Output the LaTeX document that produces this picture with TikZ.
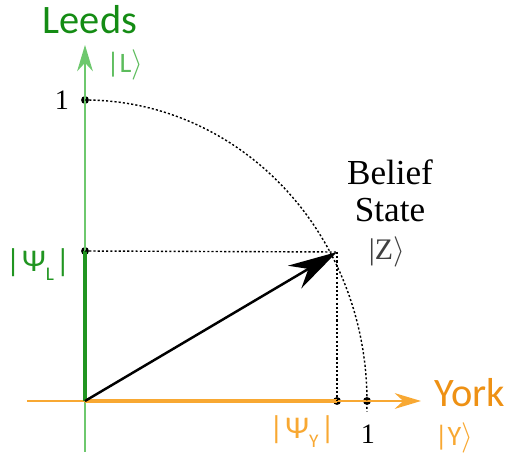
\documentclass[tikz,border=0pt]{standalone}
\usepackage{fontspec}
\setmainfont{Liberation Serif}
\newfontfamily\calfont{Carlito}
\usetikzlibrary{arrows.meta}
\definecolor{leedsGreen}{RGB}{20,140,20}
\definecolor{axisGreen}{RGB}{110,200,110}
\definecolor{yorkOrange}{RGB}{238,145,20}
\definecolor{axisOrange}{RGB}{248,168,50}

\begin{document}
\begin{tikzpicture}[x=0.02cm, y=0.02cm,
    city/.style={font=\calfont\fontsize{23}{26}\selectfont, inner sep=0pt},
    ket/.style={font=\calfont\fontsize{16}{19}\selectfont, inner sep=0pt},
    amp/.style={font=\calfont\fontsize{18}{21}\selectfont, inner sep=0pt},
    serif/.style={font=\fontsize{16}{18}\selectfont, inner sep=0pt},
    belief/.style={font=\fontsize{20}{23}\selectfont, align=center, inner sep=0pt},
    guide/.style={line width=0.8pt, dash pattern=on 1.2pt off 1.2pt},
    knot/.style={circle, fill=black, inner sep=0pt, minimum size=4.5pt},
    axis/.style={line width=0.8pt, -{Stealth[length=15pt,width=9pt]}},
    >=Stealth
  ]
  \useasboundingbox (0,0) rectangle (512,457);

  % Points
  \coordinate (O) at (85,56);
  \coordinate (Ytop) at (85,412);
  \coordinate (Ybot) at (85,5);
  \coordinate (Xleft) at (27,56);
  \coordinate (Xright) at (421,56);
  \coordinate (Z) at (337,205);
  \node[knot] (L1) at (85,357) {};
  \node[knot] (psiL) at (85,206) {};
  \node[knot] (psiY) at (337,56) {};
  \node[knot] (Y1) at (367,56) {};

  % Axes
  \draw[axis, axisGreen] (Ybot) -- (Ytop);
  \draw[axis, axisOrange] (Xleft) -- (Xright);
  \draw[line width=1.8pt, leedsGreen!85!axisGreen] (O) -- (psiL.center);
  \draw[line width=1.8pt, axisOrange] (O) -- (psiY.center);

  % Projections and unit circle
  \draw[guide] (psiL.center) -- (Z);
  \draw[guide] (Z) -- (psiY.center);
  \draw[guide] (L1.center) arc[start angle=90, end angle=-2,
    x radius=282, y radius=301];

  % Belief vector
  \draw[-{Stealth[length=28pt,width=15pt]}, line width=1.4pt] (O) -- (Z);

  % Labels
  \node[city, text=leedsGreen] (leeds) at (90,437) {Leeds};
  \node[ket, text=axisGreen!80!leedsGreen] (ketL) at (125,392) {|L$\rangle$};
  \node[city, text=yorkOrange] (york) at (470,64) {York};
  \node[ket, text=axisOrange] (ketY) at (454,19) {|Y$\rangle$};
  \node[serif] (one1) at (62,357) {1};
  \node[serif] (one2) at (368,23) {1};
  \node[amp, text=leedsGreen!85!axisGreen] (ampL) at (38,192)
    {|\kern1pt Ψ\raisebox{-0.6ex}{\fontsize{11}{12}\selectfont L}\kern1pt|};
  \node[amp, text=axisOrange] (ampY) at (302,25)
    {|\kern1pt Ψ\raisebox{-0.6ex}{\fontsize{11}{12}\selectfont Y}\kern1pt|};
  \node[belief] (state) at (390,266) {Belief\\[-2pt]State};
  \node[serif, font=\fontsize{17}{19}\selectfont, text=black!75] (ketZ)
    at (387,205) {|Z$\rangle$};
\end{tikzpicture}
\end{document}
